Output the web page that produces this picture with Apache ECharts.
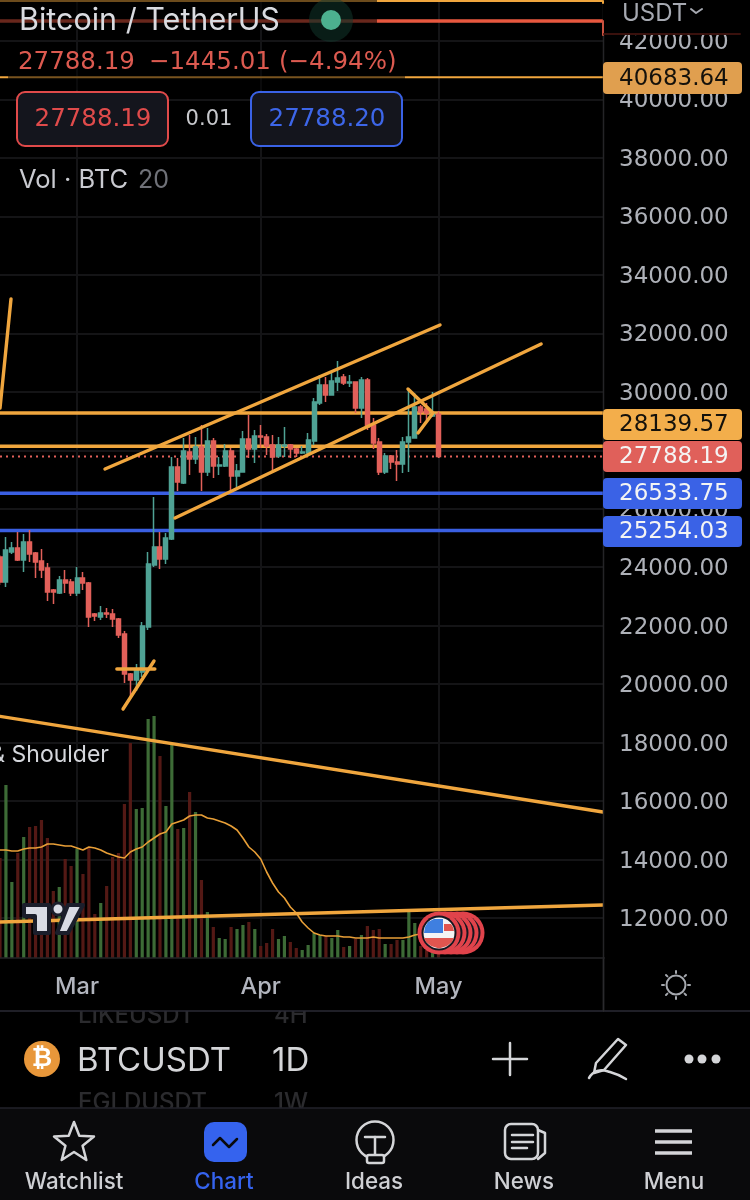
<!DOCTYPE html>
<html><head><meta charset="utf-8">
<style>html,body{margin:0;padding:0;background:#000}#c{width:750px;height:1200px}</style>
<script src="https://cdn.jsdelivr.net/npm/echarts@6/dist/echarts.min.js"></script>
</head><body><div id="c"></div>
<script>
// ---------- data ----------
const monthSpans = [['Feb',16,28],['Mar',1,31],['Apr',1,30],['May',1,29]];
const opens  = [24350,23495,24521,24658,24247,24863,24487,24213,23974,23221,23118,23563,23495,23118,23632,23461,22400,22297,22434,22400,22229,21716,20347,20142,20416,21955,24076,24692,24282,24966,27429,26882,27942,27703,28113,27258,28318,27463,27463,27976,27121,27258,28387,28045,28489,28455,28182,27805,28147,28182,28045,27908,27908,28318,29618,30234,29892,30337,30508,30303,30337,29447,30405,28866,28284,27258,27805,27600,27532,28284,28421,29482,29413,29174,29233];
const closes = [23495,24590,24658,24247,24863,24453,24179,23905,23153,23153,23563,23461,23118,23632,23461,22297,22332,22434,22400,22229,21682,20347,20142,20484,21990,24111,24692,24282,25000,27429,26916,27976,27703,28113,27258,28318,27463,27497,27976,27121,27292,28387,28045,28489,28455,28147,27771,28182,28182,28045,27908,27942,28353,29653,30234,29892,30371,30474,30303,30337,29447,30405,28797,28250,27258,27805,27600,27532,28284,28455,29482,29310,29276,29233,27788.19];
const lows   = [23390,23324,24453,24213,23837,24179,23632,23632,22845,22742,23084,23118,23016,23016,23221,21955,22161,22195,22263,21955,21579,20040,19561,19766,20245,21853,24008,23940,24111,24932,26608,26847,27155,27532,26608,27121,27053,27155,27429,26539,26642,27258,27737,27566,28079,27839,27224,27737,27771,27737,27771,27874,27771,28182,29550,29653,29892,30029,30234,30166,29276,29105,28695,28045,27155,27189,27361,26950,27224,27258,28421,28934,29037,29139,27737];
const highs  = [24420,25034,24863,25205,25137,25274,24521,24624,24145,23255,23700,23905,23597,24008,23837,23495,22434,22674,22605,22571,22263,21818,20382,20690,22126,24521,26403,25205,25171,27771,27737,28421,28524,28455,28866,28763,28421,27771,28216,28079,27532,28660,29208,28695,28866,28558,28524,28455,28797,28216,28079,28147,28592,29789,30576,30508,30645,31055,30610,30576,30337,30508,30474,29105,28421,27908,27839,28011,28455,30063,29960,29550,29618,29995,29345];
const volumesK = [100,173,76,105,121,131,132,138,120,67,71,99,92,109,84,110,44,55,72,101,105,154,215,149,150,239,242,202,152,215,129,130,166,146,78,46,31,20,19,31,29,33,36,29,12,15,29,19,22,16,10,8,13,25,23,22,20,28,11,12,19,23,32,28,29,14,14,18,18,46,35,12,8,5,5];
const volumeMAK = [108,108,107,107,109,110,110,111,114,114,113,112,112,110,108,111,110,108,105,103,101,100,106,109,111,116,120,124,126,134,136,138,142,143,143,140,139,137,135,132,128,120,111,106,99,86,75,66,60,51,45,36,30,25,23,22,22,22,21,21,20,20,20,21,20,20,20,20,20,21,23,24,25,26,27];
const thinLevels = [43370,42685,40760];
const orangeLevels = [29275,28139.57];
const blueLevels = [26533.75,25254.03];
const lastPrice = 27788.19;
const redLevel = 42685;
const trendLines = [
  [[0.61,29447],[2.46,33176]],
  [[18.3,27361],[74.76,32287]],
  [[30.1,25684],[91.8,31637]],
  [[69.36,30097],[73.58,29276],[71.05,28592]],
  [[20.3,20519],[26.7,20519]],
  [[21.34,19150],[26.56,20792]],
  [[0.61,18897],[102.2,15627]],
  [[0.61,11863],[102.2,12445]]
];
const priceTags = [
  ['40683.64',62,32,'#e09f4f','#14110b'],
  ['28139.57',409,31,'#f3ae4b','#14110b'],
  ['27788.19',441,31,'#e0605a','#f4f4f4'],
  ['26533.75',478,31,'#3a62e6','#f4f4f4'],
  ['25254.03',516,31,'#3a62e6','#f4f4f4']
];
const yTickStep = 2000, yMin = 10000, yMax = 43403;
// ---------- derived ----------
const categories = [];
monthSpans.forEach(m=>{ for(let d=m[1];d<=m[2];d++) categories.push(m[0]+' '+d); });
const isMonthStart = (i)=>/ 1$/.test(categories[i]);
const GREEN='#4fa295', RED='#e2605a', ORANGE='#f0a63e', BLUE='#3a5fe2', VG='#3d6b36', VR='#541915', GRID='#141416';
const F='Inter, "Noto Sans", sans-serif';
const NUM='"DejaVu Sans", sans-serif';

const g=[];
const T=(text,x,y,size,fill,o={})=>g.push({type:'text',z:o.z||8,silent:true,style:{text,x,y,fill,font:(o.w||400)+' '+size+'px '+(o.f||F),textAlign:o.a||'left',align:o.a||'left',textVerticalAlign:'middle',verticalAlign:'middle',opacity:o.op==null?1:o.op}});
const R=(x,y,w,h,fill,o={})=>g.push({type:'rect',z:o.z||6,silent:true,shape:{x,y,width:w,height:h,r:o.r||0},style:{fill,stroke:o.s||null,lineWidth:o.lw||0,opacity:o.op==null?1:o.op}});
const C=(cx,cy,r,fill,o={})=>g.push({type:'circle',z:o.z||7,silent:true,shape:{cx,cy,r},style:{fill:fill||'transparent',stroke:o.s||null,lineWidth:o.lw||0,opacity:o.op==null?1:o.op}});
const PL=(pts,stroke,lw,o={})=>g.push({type:'polyline',z:o.z||7,silent:true,shape:{points:pts,smooth:o.smooth||0},style:{stroke,lineWidth:lw,fill:null,lineCap:'round',lineJoin:'round'}});
const PG=(pts,fill,o={})=>g.push({type:'polygon',z:o.z||7,silent:true,shape:{points:pts},style:{fill,stroke:o.s||null,lineWidth:o.lw||0,lineJoin:'round'}});

// dimming of chart lines under the header
R(0,0,377,30,'#000',{z:3,op:.55});
R(8,60,397,30,'#000',{z:3,op:.5});
// right panel + bottom cover
R(603,0,147,959,'#000',{z:4});
R(0,959,750,241,'#000',{z:4});
PL([[603.5,0],[603.5,1011]],'#242427',1.5,{z:4.5});
R(603,0,147,34,'#000',{z:6});
PL([[603,1],[603,3]],'#f0a63e',2,{z:6.5});
PL([[603,21],[603,35]],'#c9513f',2,{z:6.5});
PL([[604,34],[740,34]],'#3a110d',2,{z:6.5});
T('USDT',622,14,24,'#a6a9b1',{z:8});
PL([[691,9],[696,13],[702,9]],'#a6a9b1',2,{z:8});
// header texts
T('Bitcoin / TetherUS',19,21,30.5,'#d9dbe0');
C(331,20,22,'#123a2e',{op:.5});
C(331,20,10,'#4cb08f');
T('27788.19',18,63,24.5,'#dc5a50',{f:NUM});
T('\u22121445.01',149,63,24.5,'#dc5a50',{f:NUM});
T('(\u22124.94%)',279,63,24.5,'#dc5a50',{f:NUM});
R(17,92,151,54,'#14151d',{r:8,s:'#e04a4a',lw:2,z:7});
T('27788.19',93,120,24.5,'#e04b4b',{a:'center',f:NUM});
T('0.01',209,120,21,'#c7c8cc',{a:'center',f:NUM});
R(251,92,151,54,'#14151d',{r:8,s:'#3a62e6',lw:2,z:7});
T('27788.20',327,120,24.5,'#3d66e8',{a:'center',f:NUM});
T('Vol \u00b7 BTC',19,180,25.5,'#c9cad0');
T('20',138,180,25,'#6f7178');
// price tags
priceTags.forEach(p=>{
  R(603,p[1],139,p[2],p[3],{r:4,z:7});
  T(p[0],619,p[1]+p[2]/2+1,23,p[4],{z:8,f:NUM});
});
// drawing label and logo
T('Head & Shoulder',109,755,23,'#d5d7dc',{a:'right',z:3});
PG([[24,905],[49,905],[49,933],[35,933],[35,916],[24,916]],'#d9dbe4',{s:'#1b1e2b',lw:4,z:3});
C(58,909,6,'#d9dbe4',{s:'#1b1e2b',lw:3,z:3});
PG([[68,905],[83,905],[68,933],[57,933]],'#d9dbe4',{s:'#1b1e2b',lw:4,z:3});
// flag stack
[463,457,451,445].forEach(x=>{C(x,933,21.5,'#e0434b',{z:3});C(x,933,17.5,'#14161f',{z:3});});
C(439,933,21.5,'#e0434b',{z:3});
C(439,933,17.5,'#14161f',{z:3});
C(439,933,15.5,'#f4f4f4',{z:3});
PG([[444,924],[451,924],[453,927],[454,931],[444,931]],'#e0554f',{z:3});
PG([[424,938],[454,938],[452,942],[447,946],[439,948.5],[431,946],[426,942]],'#e0554f',{z:3});
PG([[424,933],[443,933],[443,919],[434,919],[428,922],[425,927]],'#3f7fe0',{z:3});
// faded rows
T('LIKEUSDT',78,1016,24,'#2b2b2e',{z:4.2,w:500});
T('4H',274,1016,24,'#2b2b2e',{z:4.2,w:500});
T('EGLDUSDT',78,1103,24,'#2b2b2e',{z:4.2,w:500});
T('1W',274,1103,24,'#2b2b2e',{z:4.2,w:500});
R(0,959,750,52,'#000',{z:4.3});
R(0,1108,750,92,'#0a0a0c',{z:4.3});
PL([[0,1011],[750,1011]],'#2a2a35',1.5,{z:4.4});
PL([[0,1108],[750,1108]],'#22222a',1.5,{z:4.4});
PL([[603.5,959],[603.5,1011]],'#2a2a2d',1.5,{z:4.5});
// gear icon
C(676,985,9.5,null,{s:'#a5a8ae',lw:2});
[[0,-14,0,-12],[0,14,0,12],[-14,0,-12,0],[14,0,12,0],[-10,-10,-8.6,-8.6],[10,-10,8.6,-8.6],[-10,10,-8.6,8.6],[10,10,8.6,8.6]].forEach(s=>PL([[676+s[0],985+s[1]],[676+s[2],985+s[3]]],'#a5a8ae',2));
// symbol row
C(42,1059,18,'#e8973a');
T('\u20bf',42,1059,25,'#fff',{a:'center',w:700,f:NUM});
T('BTCUSDT',77,1061,33,'#d4d5d8');
T('1D',272,1061,33,'#d4d5d8');
PL([[493,1059],[527,1059]],'#d4d5d8',2.5);
PL([[510,1043],[510,1075]],'#d4d5d8',2.5);
PG([[618,1039],[626,1045],[604,1070],[594,1073],[596,1063]],'transparent',{s:'#d4d5d8',lw:2.5});
PL([[589,1078],[597,1071],[610,1072],[626,1079]],'#d4d5d8',2.5,{smooth:.5});
C(689,1059,4.5,'#d4d5d8');C(702,1059,4.5,'#d4d5d8');C(716,1059,4.5,'#d4d5d8');
// nav
const star=[];for(let i=0;i<10;i++){const r=i%2?9:21,a=-Math.PI/2+i*Math.PI/5;star.push([74+r*Math.cos(a),1143+r*Math.sin(a)]);}
PG(star,'transparent',{s:'#d4d5d8',lw:2.5});
R(204,1122,43,40,'#3563ee',{r:10,z:7});
PL([[213,1145],[220,1138],[229,1147],[237,1139]],'#0a0a0c',2.5);
C(375,1140,18.5,null,{s:'#d4d5d8',lw:2.5});
PL([[365,1137],[385,1137]],'#d4d5d8',2.5);PL([[375,1137],[375,1155]],'#d4d5d8',2.5);
R(367,1155,17,8,'#0a0a0c',{r:2,s:'#d4d5d8',lw:2.5,z:7.5});
R(505,1124,33,35,'transparent',{r:6,s:'#d4d5d8',lw:2.5,z:7});
PL([[538,1130],[545,1133],[545,1153],[538,1159]],'#d4d5d8',2.5);
PL([[512,1135],[533,1135]],'#d4d5d8',2.5);PL([[512,1142],[533,1142]],'#d4d5d8',2.5);PL([[512,1148],[527,1148]],'#d4d5d8',2.5);
[1131,1142,1153].forEach(y=>R(655,y-1.8,37,3.6,'#d4d5d8',{z:7}));
[['Watchlist',74,'#cfd0d4'],['Chart',224,'#3563ee'],['Ideas',374,'#cfd0d4'],['News',524,'#cfd0d4'],['Menu',674,'#cfd0d4']].forEach(n=>T(n[0],n[1],1182,22.4,n[2],{a:'center',w:500}));

const TMIN=0.607, TMAX=102.46;
const levelLine=(p,color,lw,type)=>({type:'line',xAxisIndex:2,yAxisIndex:0,data:[[TMIN,p],[TMAX,p]],symbol:'none',silent:true,z:2,
  lineStyle:{color,width:lw,type:type||'solid'}});

const GW=604.4;
const option={
  backgroundColor:'#000',animation:false,
  grid:[{left:0,width:GW,top:0,height:976.5},{left:0,width:GW,top:698,height:260}],
  xAxis:[
    {type:'category',gridIndex:0,data:categories,boundaryGap:false,show:true,axisLine:{show:false},axisTick:{show:false},axisLabel:{show:false},
      splitLine:{show:true,interval:(i)=>isMonthStart(i),lineStyle:{color:GRID,width:2}},z:0},
    {type:'category',gridIndex:1,data:categories,boundaryGap:false,z:5,axisLine:{onZero:false,lineStyle:{color:'#242427',width:1.5}},axisTick:{show:false},
      splitLine:{show:false},
      axisLabel:{interval:(i)=>isMonthStart(i),formatter:(v)=>v.split(' ')[0],color:'#b2b5be',fontSize:23.5,fontWeight:500,fontFamily:F,margin:17}},
    {type:'value',gridIndex:0,min:TMIN,max:TMAX,show:false}
  ],
  yAxis:[
    {type:'value',gridIndex:0,position:'right',min:yMin,max:yMax,interval:yTickStep,axisLine:{show:false},axisTick:{show:false},axisLabel:{show:false},
      splitLine:{show:true,lineStyle:{color:GRID,width:2}},z:0},
    {type:'value',gridIndex:0,position:'right',min:yMin,max:yMax,interval:yTickStep,z:5,axisLine:{show:false},axisTick:{show:false},splitLine:{show:false},
      axisLabel:{show:true,showMinLabel:false,showMaxLabel:false,margin:14.6,formatter:(v)=>'{p|'+v.toFixed(2)+'}',
        rich:{p:{color:'#aeb1b8',fontSize:23,fontFamily:NUM,padding:[4,0,0,0]}}}},
    {type:'value',gridIndex:1,min:0,max:260,show:false}
  ],
  series:[
    {type:'bar',xAxisIndex:1,yAxisIndex:2,barWidth:3.2,silent:true,z:1,
      data:volumesK.map((v,i)=>({value:v,itemStyle:{color:closes[i]>=opens[i]?VG:VR}}))},
    {type:'line',xAxisIndex:1,yAxisIndex:2,data:volumeMAK,symbol:'none',silent:true,z:1.5,lineStyle:{color:'#e89f37',width:1.6}},
    {type:'candlestick',xAxisIndex:0,yAxisIndex:0,barWidth:4.5,silent:true,z:2,
      data:opens.map((o,i)=>[o,closes[i],lows[i],highs[i]]),
      itemStyle:{color:GREEN,color0:RED,borderColor:GREEN,borderColor0:RED,borderWidth:1.5}},
    ...thinLevels.map((p)=>levelLine(p,p===redLevel?'#e8583f':ORANGE,p===redLevel?3.5:2)),
    ...orangeLevels.map((p)=>levelLine(p,ORANGE,3.5)),
    ...blueLevels.map((p)=>levelLine(p,BLUE,3.5)),
    levelLine(lastPrice,RED,1.8,[2,4]),
    ...trendLines.map((pts)=>({type:'line',xAxisIndex:2,yAxisIndex:0,data:pts,symbol:'none',silent:true,z:2.5,
      lineStyle:{color:ORANGE,width:3.4,cap:'round',join:'round'}}))
  ],
  graphic:{elements:g}
};
echarts.init(document.getElementById('c')).setOption(option);
</script></body></html>
